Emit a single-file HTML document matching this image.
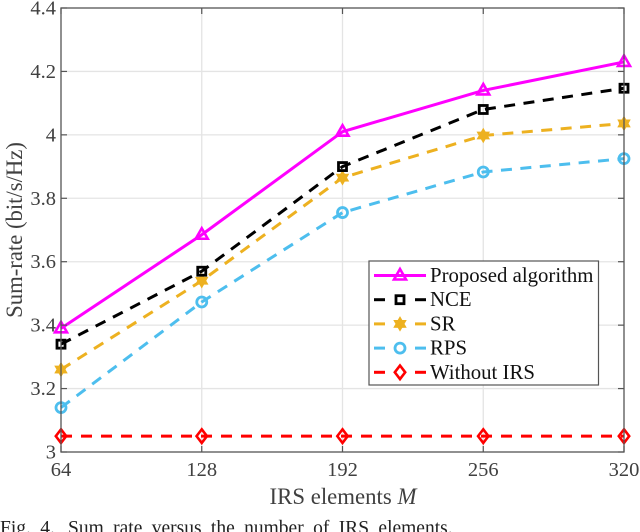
<!DOCTYPE html>
<html>
<head>
<meta charset="utf-8">
<style>
html,body{margin:0;padding:0;background:#fff;}
body{width:640px;height:532px;overflow:hidden;}
svg{display:block;font-family:"Liberation Serif",serif;}
</style>
</head>
<body>
<svg id="chart" width="640" height="532" viewBox="0 0 640 532" xmlns="http://www.w3.org/2000/svg">
<g id="grid"></g>
<g id="series"></g>
<g id="axes"></g>
<text x="343" y="504" font-size="22.8" fill="#404040" text-anchor="middle">IRS elements <tspan font-style="italic">M</tspan></text>
<text transform="translate(22,230) rotate(-90)" font-size="22.7" fill="#404040" text-anchor="middle">Sum-rate (bit/s/Hz)</text>
<g id="legend"></g>
<text y="534" font-size="19.5" fill="#222" word-spacing="4.5"><tspan x="0">Fig. 4.</tspan><tspan x="68">Sum rate versus the number of IRS elements.</tspan></text>
</svg>
<script>
const categories = [64, 128, 192, 256, 320];
const yTicks = [3, 3.2, 3.4, 3.6, 3.8, 4, 4.2, 4.4];
const yTickLabels = ['3', '3.2', '3.4', '3.6', '3.8', '4', '4.2', '4.4'];
const proposedValues = [3.39, 3.685, 4.01, 4.14, 4.23];
const nceValues = [3.34, 3.57, 3.90, 4.08, 4.147];
const srValues = [3.26, 3.54, 3.865, 3.998, 4.036];
const rpsValues = [3.14, 3.473, 3.755, 3.883, 3.925];
const withoutIrsValues = [3.05, 3.05, 3.05, 3.05, 3.05];
const seriesNames = ['Proposed algorithm', 'NCE', 'SR', 'RPS', 'Without IRS'];

const NS = 'http://www.w3.org/2000/svg';
const L = 61, R = 624, T = 8, B = 452;
const xScale = v => L + (v - 64) / (320 - 64) * (R - L);
const yScale = v => B - (v - 3) / (4.4 - 3) * (B - T);

const styles = [
  {color: '#ff00ff', dash: '', marker: 'triangle', values: proposedValues, key: 'proposed'},
  {color: '#000000', dash: '11 8.5', marker: 'square', values: nceValues, key: 'nce'},
  {color: '#edb120', dash: '11 8.5', marker: 'star', values: srValues, key: 'sr'},
  {color: '#4dbeee', dash: '11 8.5', marker: 'circle', values: rpsValues, key: 'rps'},
  {color: '#ff0000', dash: '11 9', marker: 'diamond', values: withoutIrsValues, key: 'without-irs'}
];

function make(tag, attrs, parent) {
  const el = document.createElementNS(NS, tag);
  for (const k in attrs) el.setAttribute(k, attrs[k]);
  parent.appendChild(el);
  return el;
}

function drawMarker(kind, cx, cy, color, parent) {
  let el;
  if (kind === 'triangle') {
    el = make('polygon', {points: `${cx},${cy-6.5} ${cx+6},${cy+4} ${cx-6},${cy+4}`, fill: 'none', stroke: color, 'stroke-width': 2.6}, parent);
  } else if (kind === 'square') {
    el = make('rect', {x: cx-4, y: cy-4, width: 8, height: 8, fill: 'none', stroke: color, 'stroke-width': 2.8}, parent);
  } else if (kind === 'circle') {
    el = make('circle', {cx: cx, cy: cy, r: 5, fill: 'none', stroke: color, 'stroke-width': 2.8}, parent);
  } else if (kind === 'diamond') {
    el = make('polygon', {points: `${cx},${cy-6.8} ${cx+5.2},${cy} ${cx},${cy+6.8} ${cx-5.2},${cy}`, fill: 'none', stroke: color, 'stroke-width': 2.6}, parent);
  } else {
    const pts = [];
    for (let i = 0; i < 12; i++) {
      const r = i % 2 ? 3.6 : 6.2;
      const a = -Math.PI / 2 + i * Math.PI / 6;
      pts.push((cx + r * Math.cos(a)).toFixed(2) + ',' + (cy + r * Math.sin(a)).toFixed(2));
    }
    el = make('polygon', {points: pts.join(' '), fill: color, stroke: color, 'stroke-width': 1.6}, parent);
  }
  return el;
}

const gridG = document.getElementById('grid');
const axesG = document.getElementById('axes');
const seriesG = document.getElementById('series');
const legendG = document.getElementById('legend');

categories.forEach(c => {
  const x = xScale(c);
  if (c !== 64 && c !== 320) {
    const g = make('line', {x1: x, x2: x, y1: T, y2: B, stroke: '#e4e4e4', 'stroke-width': 1.3}, gridG);
    
    
  }
  const t1 = make('line', {x1: x, x2: x, y1: B, y2: B - 6, stroke: '#555', 'stroke-width': 1.2}, axesG);
  
  
  const t2 = make('line', {x1: x, x2: x, y1: T, y2: T + 6, stroke: '#555', 'stroke-width': 1.2}, axesG);
  
  
  const lab = make('text', {x: x, y: 476, 'font-size': 20.5, fill: '#404040', 'text-anchor': 'middle'}, axesG);
  lab.textContent = String(c);
  
  
});

yTicks.forEach((v, i) => {
  const y = yScale(v);
  if (v !== 3 && v !== 4.4) {
    const g = make('line', {x1: L, x2: R, y1: y, y2: y, stroke: '#e4e4e4', 'stroke-width': 1.3}, gridG);
    
    
  }
  const t1 = make('line', {x1: L, x2: L + 6, y1: y, y2: y, stroke: '#555', 'stroke-width': 1.2}, axesG);
  
  
  const t2 = make('line', {x1: R, x2: R - 6, y1: y, y2: y, stroke: '#555', 'stroke-width': 1.2}, axesG);
  
  
  const lab = make('text', {x: 56, y: y + 6.5, 'font-size': 20.5, fill: '#404040', 'text-anchor': 'end'}, axesG);
  lab.textContent = yTickLabels[i];
  
  
});

const box = make('rect', {x: L, y: T, width: R - L, height: B - T, fill: 'none', stroke: '#555', 'stroke-width': 1.3}, axesG);



styles.slice().reverse().forEach(s => {
  const pts = s.values.map((v, i) => xScale(categories[i]) + ',' + yScale(v)).join(' ');
  const line = make('polyline', {points: pts, fill: 'none', stroke: s.color, 'stroke-width': 3}, seriesG);
  if (s.dash) line.setAttribute('stroke-dasharray', s.dash);
  
  
  s.values.forEach((v, i) => {
    const m = drawMarker(s.marker, xScale(categories[i]), yScale(v), s.color, seriesG);
    
    
  });
});

const legendBox = make('rect', {x: 369, y: 261, width: 229.5, height: 124, fill: '#fff', stroke: '#555', 'stroke-width': 1.2}, legendG);



styles.forEach((s, i) => {
  const y = 275.5 + i * 24.2;
  const g = make('g', {}, legendG);
  
  
  if (s.dash) {
    make('line', {x1: 374, x2: 385, y1: y, y2: y, stroke: s.color, 'stroke-width': 3}, g);
    make('line', {x1: 415, x2: 426, y1: y, y2: y, stroke: s.color, 'stroke-width': 3}, g);
  } else {
    make('line', {x1: 374, x2: 426, y1: y, y2: y, stroke: s.color, 'stroke-width': 3}, g);
  }
  drawMarker(s.marker, 400, y, s.color, g);
  const t = make('text', {x: 430, y: y + 6.5, 'font-size': 20.8, fill: '#111'}, g);
  t.textContent = seriesNames[i];
});
</script>
</body>
</html>
